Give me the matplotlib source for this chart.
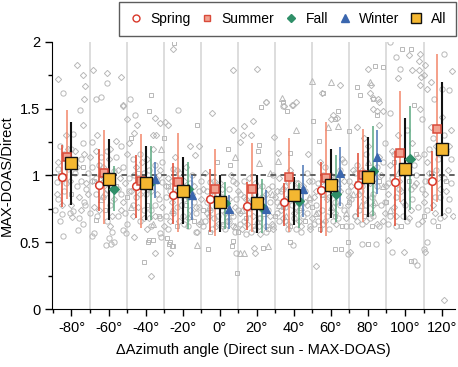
import numpy as np
import matplotlib
matplotlib.use("Agg")
import matplotlib.pyplot as plt
from matplotlib.lines import Line2D

plt.rcParams['font.family'] = ['Liberation Sans', 'DejaVu Sans']

# grupos de azimut (centros de cada intervalo de 20 grados)
bins = [-80, -60, -40, -20, 0, 20, 40, 60, 80, 100, 120]
nan = np.nan

spring_val = [0.99, 0.93, 0.92, 0.85, 0.82, 0.77, 0.80, 0.89, 0.93, 0.95, 0.96]
spring_lo = [0.76, 0.73, 0.68, 0.64, 0.58, 0.59, 0.62, 0.57, 0.69, 0.62, 0.73]
spring_hi = [1.23, 1.20, 1.15, 1.09, 1.05, 0.95, 0.94, 1.10, 1.17, 1.18, 1.18]

summer_val = [1.14, 1.02, 0.96, 0.95, 0.90, 0.90, 0.99, 0.98, 1.00, 1.17, 1.35]
summer_lo = [0.82, 0.64, 0.61, 0.58, 0.55, 0.58, 0.58, 0.55, 0.65, 0.80, 0.80]
summer_hi = [1.49, 1.34, 1.31, 1.32, 1.20, 1.24, 1.28, 1.40, 1.35, 1.63, 1.91]

fall_val = [nan, 0.90, 0.95, 0.90, 0.79, 0.76, 0.81, 0.86, 1.03, 1.12, nan]
fall_lo = [nan, 0.73, 0.67, 0.60, 0.60, 0.57, 0.61, 0.65, 0.70, 0.74, nan]
fall_hi = [nan, 1.07, 1.22, 1.10, 0.95, 0.97, 0.94, 1.15, 1.37, 1.52, nan]

winter_val = [nan, nan, 0.97, 0.85, 0.75, 0.75, 0.90, 1.02, 1.14, nan, nan]
winter_lo = [nan, nan, 0.83, 0.67, 0.60, 0.59, 0.69, 0.77, 0.86, nan, nan]
winter_hi = [nan, nan, 1.10, 1.00, 0.85, 0.89, 1.08, 1.21, 1.34, nan, nan]

all_val = [1.09, 0.97, 0.94, 0.88, 0.80, 0.79, 0.85, 0.93, 0.99, 1.05, 1.20]
all_lo = [0.78, 0.67, 0.67, 0.64, 0.58, 0.57, 0.63, 0.68, 0.69, 0.67, 0.70]
all_hi = [1.40, 1.27, 1.22, 1.14, 1.00, 1.00, 0.99, 1.20, 1.29, 1.43, 1.70]

# puntos individuales (gris) por forma: (delta azimut, cociente)
pts_circle = [
    (-88, 0.95), (-86, 1.22), (-84, 0.88), (-82, 1.05), (-79, 1.31), (-77, 0.92), (-75, 1.12),
    (-73, 0.80), (-71, 1.02), (-69, 1.25), (-67, 0.86), (-65, 1.08), (-63, 0.95), (-61, 1.18),
    (-59, 0.78), (-57, 1.03), (-55, 0.90), (-53, 1.22), (-51, 0.72), (-49, 0.98), (-47, 1.12),
    (-45, 0.84), (-43, 0.66), (-41, 1.02), (-39, 0.90), (-37, 0.74), (-35, 1.08), (-33, 0.82),
    (-31, 0.95), (-29, 0.70), (-27, 0.88), (-25, 1.05), (-23, 0.76), (-21, 0.92), (-19, 0.64),
    (-17, 0.84), (-15, 1.00), (-13, 0.72), (-11, 0.88), (-9, 0.62), (-7, 0.80), (-5, 0.95),
    (-3, 0.68), (-1, 0.86), (1, 0.74), (3, 0.60), (5, 0.90), (7, 0.70), (9, 0.82), (11, 0.64),
    (13, 0.96), (15, 0.76), (17, 0.58), (19, 0.86), (21, 0.68), (23, 0.92), (25, 0.62),
    (27, 0.80), (29, 1.00), (31, 0.72), (33, 0.88), (35, 0.66), (37, 0.96), (39, 0.78),
    (41, 0.60), (43, 0.90), (45, 0.70), (47, 1.02), (49, 0.82), (51, 0.64), (53, 0.94),
    (55, 0.74), (57, 1.06), (59, 0.84), (61, 0.66), (63, 0.98), (65, 0.78), (67, 1.10),
    (69, 0.88), (71, 0.62), (73, 1.02), (75, 0.74), (77, 0.92), (79, 1.16), (81, 0.68),
    (83, 0.86), (85, 1.06), (87, 0.78), (89, 1.24), (91, 0.64), (93, 0.98), (95, 0.84),
    (97, 1.18), (99, 0.70), (101, 1.34), (103, 0.90), (105, 1.08), (107, 0.76), (109, 1.42),
    (111, 0.96), (113, 1.20), (115, 0.66), (117, 1.04), (119, 0.84), (121, 1.30), (123, 0.74),
    (125, 1.12),
    (-89, 0.74), (-87, 1.05), (-86, 0.66), (-84, 1.16), (-83, 0.94), (-81, 0.72), (-80, 1.20),
    (-78, 1.02), (-76, 0.68), (-75, 0.96), (-74, 1.24), (-72, 0.90), (-70, 0.72), (-69, 1.06),
    (-67, 0.98), (-66, 0.70), (-64, 1.14), (-63, 0.84), (-61, 0.66), (-60, 1.00), (-58, 0.92),
    (-56, 1.14), (-55, 0.70), (-53, 0.86), (-52, 1.06), (-50, 0.64), (-49, 0.88), (-47, 0.78),
    (-46, 1.00), (-44, 0.92), (-43, 1.16), (-41, 0.74), (-40, 0.86), (-38, 1.04), (-37, 0.62),
    (-35, 0.78), (-34, 0.96), (-32, 0.68), (-31, 1.10), (-29, 0.84), (-28, 0.60), (-26, 0.96),
    (-25, 0.72), (-23, 0.88), (-22, 1.02), (-20, 0.70), (-19, 0.82), (-17, 0.62), (-16, 0.94),
    (-14, 0.80), (-13, 0.58), (-11, 0.76), (-10, 0.96), (-8, 0.66), (-7, 0.88), (-5, 0.74),
    (-4, 0.60), (-2, 0.92), (-1, 0.70), (1, 0.84), (2, 0.62), (4, 0.78), (5, 0.66), (7, 0.96),
    (8, 0.58), (10, 0.74), (11, 0.86), (13, 0.66), (14, 0.56), (16, 0.72), (17, 0.90),
    (19, 0.60), (20, 0.78), (22, 0.68), (23, 0.84), (25, 0.58), (26, 0.74), (28, 0.92),
    (29, 0.62), (31, 0.80), (32, 0.66), (34, 0.90), (35, 0.76), (37, 0.60), (38, 0.84),
    (40, 0.68), (41, 0.94), (43, 0.74), (44, 0.58), (46, 0.88), (47, 0.72), (49, 0.62),
    (50, 0.96), (52, 0.78), (53, 0.66), (55, 0.86), (56, 1.00), (58, 0.70), (59, 0.60),
    (61, 0.92), (62, 0.80), (64, 0.68), (65, 1.04), (67, 0.74), (68, 0.62), (70, 0.96),
    (71, 0.82), (73, 0.70), (74, 1.08), (76, 0.88), (77, 0.64), (79, 0.78), (80, 0.98),
    (82, 0.84), (83, 0.70), (85, 0.92), (86, 0.62), (88, 1.10), (89, 0.80), (91, 0.94),
    (92, 0.70), (94, 1.16), (95, 0.62), (97, 0.90), (98, 1.04), (100, 0.78), (101, 0.66),
    (103, 1.12), (104, 0.82), (106, 1.00), (107, 0.64), (109, 0.90), (110, 1.16), (112, 0.74),
    (113, 0.96), (115, 1.28), (116, 0.84), (118, 1.12), (119, 0.68), (121, 0.98), (122, 1.18),
    (124, 0.82), (125, 0.94),
    (-84.5, 1.62), (-75.5, 1.49), (-66.5, 1.57), (-63.8, 1.59), (-61, 1.69), (-48.5, 1.57),
    (-45.8, 1.45), (-22.4, 1.49), (34.4, 1.52), (92, 2.0), (95.3, 1.89), (97.5, 1.80),
    (121, 1.91), (120, 1.65), (123.6, 1.64), (115.5, 1.57), (92, 1.47),
    (-61.5, 0.48), (-58.8, 0.49), (8.8, 0.42), (39.8, 0.48), (69.5, 0.41), (76.8, 0.49),
    (84.3, 0.49), (93, 0.43), (104.6, 0.36), (106.5, 0.33), (110, 0.45), (112, 0.50),
    (-87.4, 0.82), (-85.2, 0.71), (-84.3, 0.55), (-78.9, 0.73), (-76.2, 0.59), (-73.5, 0.64),
    (-72.6, 0.78), (-69, 0.55), (-68, 0.57), (-60, 0.53), (-58.2, 0.58), (-57.3, 0.50),
    (-32.3, 0.57), (-31.4, 0.54), (-50.6, 0.57), (-52, 0.59),
]

pts_diamond = [
    (-87, 1.10), (-85, 0.78), (-83, 1.30), (-81, 0.96), (-78, 1.18), (-76, 0.84), (-74, 1.38),
    (-72, 0.94), (-70, 1.14), (-68, 0.76), (-66, 1.30), (-64, 1.00), (-62, 0.86), (-60, 1.12),
    (-58, 0.70), (-56, 1.26), (-54, 0.98), (-52, 0.80), (-50, 1.16), (-48, 0.88), (-46, 1.32),
    (-44, 0.76), (-42, 1.10), (-40, 0.94), (-38, 0.68), (-36, 1.20), (-34, 0.86), (-32, 1.04),
    (-30, 0.62), (-28, 0.98), (-26, 0.80), (-24, 1.14), (-22, 0.66), (-20, 0.90), (-18, 1.06),
    (-16, 0.74), (-14, 0.92), (-12, 0.58), (-10, 0.82), (-8, 1.02), (-6, 0.70), (-4, 0.88),
    (-2, 0.62), (0, 0.94), (2, 0.80), (4, 0.66), (6, 1.00), (8, 0.76), (10, 0.88), (12, 0.60),
    (14, 0.82), (16, 0.98), (18, 0.70), (20, 0.92), (22, 0.56), (24, 0.76), (26, 0.90),
    (28, 0.64), (30, 0.84), (32, 0.98), (34, 0.68), (36, 0.82), (38, 1.04), (40, 0.72),
    (42, 0.94), (44, 0.62), (46, 0.80), (48, 0.96), (50, 0.68), (52, 0.88), (54, 1.10),
    (56, 0.64), (58, 0.82), (60, 1.00), (62, 0.72), (64, 0.90), (66, 1.12), (68, 0.68),
    (70, 0.84), (72, 1.04), (74, 0.66), (76, 0.96), (78, 0.82), (80, 1.22), (82, 0.72),
    (84, 0.98), (86, 1.14), (88, 0.66), (90, 0.92), (92, 1.08), (94, 0.76), (96, 1.30),
    (98, 0.88), (100, 1.02), (102, 0.68), (104, 1.24), (106, 0.94), (108, 1.50), (110, 0.80),
    (112, 1.10), (114, 1.36), (116, 0.72), (118, 0.98), (120, 1.44), (122, 0.88), (124, 1.22),
    (126, 0.70),
    (-88, 0.86), (-85, 1.00), (-82, 1.20), (-80, 0.78), (-77, 1.06), (-75, 0.74), (-73, 1.16),
    (-71, 0.86), (-69, 0.96), (-67, 1.18), (-65, 0.74), (-63, 1.06), (-61, 0.90), (-59, 1.20),
    (-57, 0.82), (-55, 1.04), (-53, 0.74), (-51, 0.94), (-49, 1.24), (-47, 0.70), (-45, 1.06),
    (-43, 0.86), (-41, 0.68), (-39, 1.12), (-37, 0.88), (-35, 0.70), (-33, 1.00), (-31, 0.76),
    (-29, 0.92), (-27, 0.66), (-25, 0.84), (-23, 1.04), (-21, 0.78), (-19, 0.96), (-17, 0.68),
    (-15, 0.86), (-13, 0.76), (-11, 0.64), (-9, 0.90), (-7, 0.72), (-5, 0.82), (-3, 0.96),
    (-1, 0.64), (1, 0.90), (3, 0.72), (5, 0.82), (7, 0.62), (9, 0.94), (11, 0.72), (13, 0.84),
    (15, 0.64), (17, 0.76), (19, 0.94), (21, 0.62), (23, 0.74), (25, 0.86), (27, 0.70),
    (29, 0.60), (31, 0.88), (33, 0.74), (35, 0.92), (37, 0.64), (39, 0.86), (41, 0.76),
    (43, 0.66), (45, 0.92), (47, 0.78), (49, 0.60), (51, 0.84), (53, 0.72), (55, 0.96),
    (57, 0.66), (59, 0.90), (61, 0.76), (63, 0.64), (65, 0.88), (67, 0.96), (69, 0.78),
    (71, 0.92), (73, 0.70), (75, 0.86), (77, 1.04), (79, 0.66), (81, 0.94), (83, 0.78),
    (85, 0.64), (87, 1.00), (89, 0.72), (91, 0.86), (93, 1.18), (95, 0.70), (97, 0.96),
    (99, 0.80), (101, 1.10), (103, 0.74), (105, 0.92), (107, 1.14), (109, 0.66), (111, 0.86),
    (113, 1.02), (115, 0.78), (117, 1.22), (119, 0.90), (121, 0.70), (123, 1.04), (125, 1.34),
    (-87, 1.72), (-77, 1.83), (-73.7, 1.75), (-72.8, 1.67), (-73.4, 1.57), (-68.6, 1.79),
    (-61, 1.77), (-53.5, 1.74), (-52, 1.53), (-25.4, 1.95), (7, 1.79), (20.3, 1.80),
    (24.9, 1.55), (39.8, 1.53), (65, 1.68), (80.3, 1.80), (96.2, 1.73), (102, 1.90),
    (107.4, 1.86), (108, 1.91), (111, 1.83), (107.4, 1.79), (108.6, 1.74), (110, 1.75),
    (112, 1.65), (125.4, 1.78), (103.8, 1.79), (108.3, 1.68), (114.2, 1.70),
    (-37.3, 0.25), (-35, 0.42), (-26.9, 0.42), (19, 0.42), (18.5, 0.46), (52, 0.32),
    (70.4, 0.43), (91, 0.52), (99.2, 0.43), (111, 0.43), (121, 0.07), (-46.3, 0.54),
    (-39, 0.60), (-59, 0.62), (-79.8, 0.69),
    (-52, 1.52), (-35, 1.43), (-50, 1.42), (-44.8, 1.38), (-36, 1.30), (-34.4, 1.30),
    (-32, 1.39), (-29.6, 1.40), (-27.8, 1.38), (-4, 1.47), (-16.2, 1.22), (-11.2, 1.22),
    (-13.2, 1.15), (7.2, 1.34), (13, 1.37), (18, 1.41), (12.6, 1.30), (16.8, 1.30),
    (10.8, 1.25), (25, 1.55), (34.7, 1.52), (39, 1.53), (41.2, 1.55), (29.5, 1.29),
    (31.4, 1.17), (47.6, 1.16), (55.2, 1.62), (81.6, 1.68), (81, 1.62), (82.5, 1.58),
    (85.2, 1.57), (86, 1.55), (82.5, 1.50), (84.9, 1.48), (88.4, 1.48), (60.9, 1.45),
    (60, 1.42), (63.2, 1.43), (74, 1.36), (78, 1.28), (86, 1.38),
]

pts_square = [
    (-86, 1.00), (-80, 0.86), (-74, 1.06), (-68, 0.96), (-62, 0.74), (-56, 0.92), (-50, 0.84),
    (-44, 1.02), (-39, 0.78), (-33, 0.70), (-28, 0.92), (-23, 0.62), (-18, 0.78), (-14, 0.66),
    (-9, 0.74), (-5, 0.58), (-2, 0.80), (2, 0.64), (6, 0.72), (10, 0.58), (14, 0.68),
    (18, 0.62), (22, 0.78), (26, 0.60), (30, 0.70), (34, 0.76), (38, 0.62), (42, 0.80),
    (46, 0.66), (50, 0.76), (54, 0.60), (58, 0.92), (62, 0.70), (66, 0.62), (70, 0.80),
    (74, 0.94), (78, 0.70), (82, 0.62), (86, 0.96), (90, 0.80), (94, 1.10), (98, 0.62),
    (102, 0.96), (106, 1.16), (110, 0.70), (114, 1.02), (118, 0.62), (122, 0.96),
    (-37.3, 1.60), (-38, 1.48), (-24.7, 1.99), (22.3, 1.51), (55.7, 1.62), (74, 1.66),
    (75.5, 1.60), (83.6, 1.82), (98.4, 1.95), (103.4, 1.95), (88.4, 1.81), (104.6, 1.53),
    (-40.9, 0.35), (-38.6, 0.50), (-25, 0.47), (-27, 0.50), (-6.5, 0.45), (6.5, 0.47),
    (7.3, 0.51), (9.2, 0.27), (23.6, 0.46), (38, 0.50), (62, 0.45), (65.6, 0.45), (69, 0.50),
    (80.3, 0.49), (103.2, 0.36), (-66.7, 0.67), (-38, 0.52), (-36, 0.52), (-28.6, 0.53),
    (-27.2, 0.49), (-26, 0.47),
    (-47.6, 1.28), (-30, 1.28), (-12, 1.38), (4.5, 1.20), (-1.3, 1.10), (5.4, 1.08),
    (34, 1.55), (36.2, 1.48), (50.3, 1.41), (21.1, 1.23), (20.5, 1.18), (38, 1.17),
    (53.8, 1.26), (83, 1.57), (64.1, 1.48), (62, 1.42), (70, 1.33), (85, 1.45),
]

pts_triangle = [
    (-64, 0.82), (-48, 0.76), (-36, 0.64), (-26, 0.74), (-16, 0.70), (-10, 0.66), (-6, 0.76),
    (4, 0.70), (8, 0.62), (12, 0.74), (16, 0.80), (20, 0.66), (24, 0.72), (28, 0.86),
    (32, 0.78), (36, 0.70), (40, 0.88), (44, 0.76), (48, 0.84), (52, 0.72), (56, 0.86),
    (60, 0.76), (64, 0.94), (68, 0.72), (72, 0.86), (76, 0.78), (80, 1.10), (84, 0.80),
    (88, 0.92), (92, 0.74), (96, 1.02),
    (33.5, 1.58), (49.7, 1.71), (60.2, 1.70), (81.2, 1.70), (-12.4, 0.48), (11, 0.42),
    (13.3, 0.42), (26, 0.47), (-31.4, 1.20), (8.1, 1.14), (41.2, 1.34), (31.4, 1.11),
    (21.4, 1.09), (27.2, 1.02), (58.6, 1.36), (64, 1.37),
]

fig = plt.figure(figsize=(4.58, 3.67), dpi=100)
ax = fig.add_axes([0.1135, 0.158, 0.88, 0.728])

gris = '#b8b8b8'
for pts, mk, ms in [(pts_circle, 'o', 3.8), (pts_diamond, 'D', 3.2),
                    (pts_square, 's', 3.4), (pts_triangle, '^', 3.8)]:
    xs, ys = zip(*pts)
    ax.plot(xs, ys, linestyle='none', marker=mk, ms=ms, mfc='none', mec=gris,
            mew=0.7, zorder=1)

# lineas verticales de separacion y referencia en 1
for xv in np.arange(-70, 120, 20):
    ax.axvline(xv, color='#dadada', lw=1.3, zorder=0.5)
ax.axhline(1, color='#555555', ls=(0, (3, 2.5)), lw=1.3, zorder=1.5)

b = np.array(bins, dtype=float)

def serie(off, val, lo, hi, lcolor, lw, **mk):
    val = np.array(val); lo = np.array(lo); hi = np.array(hi)
    xs = b + off
    ax.vlines(xs, lo, hi, color=lcolor, lw=lw, zorder=2)
    ax.plot(xs, val, linestyle='none', zorder=3, **mk)

serie(-5.2, spring_val, spring_lo, spring_hi, '#e0472f', 1.1,
      marker='o', ms=5.5, mfc='white', mec='#d9382a', mew=1.1)
serie(-2.6, summer_val, summer_lo, summer_hi, '#f3866a', 1.1,
      marker='s', ms=5.2, mfc='#f1a291', mec='#d94a3a', mew=1.1)
serie(2.7, fall_val, fall_lo, fall_hi, '#5aa880', 1.1,
      marker='D', ms=4.8, mfc='#2f8f68', mec='#2f8f68', mew=0.8)
serie(5.0, winter_val, winter_lo, winter_hi, '#4a75b5', 1.1,
      marker='^', ms=6.2, mfc='#3a66ae', mec='#3a66ae', mew=0.8)
serie(0, all_val, all_lo, all_hi, '#111111', 1.5,
      marker='s', ms=8.5, mfc='#f4b731', mec='#111111', mew=1.0)

ax.set_xlim(-90.5, 127)
ax.set_ylim(0, 2)
ax.spines['top'].set_visible(False)
ax.spines['right'].set_visible(False)

ax.set_xticks(np.arange(-80, 121, 20))
ax.set_xticklabels([f"{v}°" for v in range(-80, 121, 20)])
ax.set_xticks(np.arange(-90, 127, 10), minor=True)
ax.set_yticks([0, 0.5, 1, 1.5, 2])
ax.set_yticklabels(['0', '0.5', '1', '1.5', '2'])
ax.set_yticks([0.25, 0.75, 1.25, 1.75], minor=True)
ax.tick_params(axis='both', which='major', direction='out', length=5, width=1, labelsize=10.5)
ax.tick_params(axis='both', which='minor', direction='out', length=3, width=1)

ax.set_xlabel("ΔAzimuth angle (Direct sun - MAX-DOAS)", fontsize=10.5, labelpad=6)
ax.set_ylabel("MAX-DOAS/Direct", fontsize=10.5, labelpad=4)

handles = [
    Line2D([], [], ls='none', marker='o', ms=5, mfc='white', mec='#d9382a', mew=1.0),
    Line2D([], [], ls='none', marker='s', ms=5, mfc='#f1a291', mec='#d94a3a', mew=1.0),
    Line2D([], [], ls='none', marker='D', ms=4.5, mfc='#2f8f68', mec='#2f8f68'),
    Line2D([], [], ls='none', marker='^', ms=5.5, mfc='#3a66ae', mec='#3a66ae'),
    Line2D([], [], ls='none', marker='s', ms=7, mfc='#f4b731', mec='#111111', mew=1.0),
]
leg = ax.legend(handles, ['Spring', 'Summer', 'Fall', 'Winter', 'All'],
                loc='upper right', bbox_to_anchor=(1.003, 1.148), ncol=5,
                fontsize=10, frameon=True, fancybox=False, edgecolor='#333333',
                handlelength=1.0, handletextpad=0.55, columnspacing=0.7,
                borderpad=0.7, borderaxespad=0)
leg.get_frame().set_linewidth(1.0)

fig.savefig('out.png', dpi=100)
